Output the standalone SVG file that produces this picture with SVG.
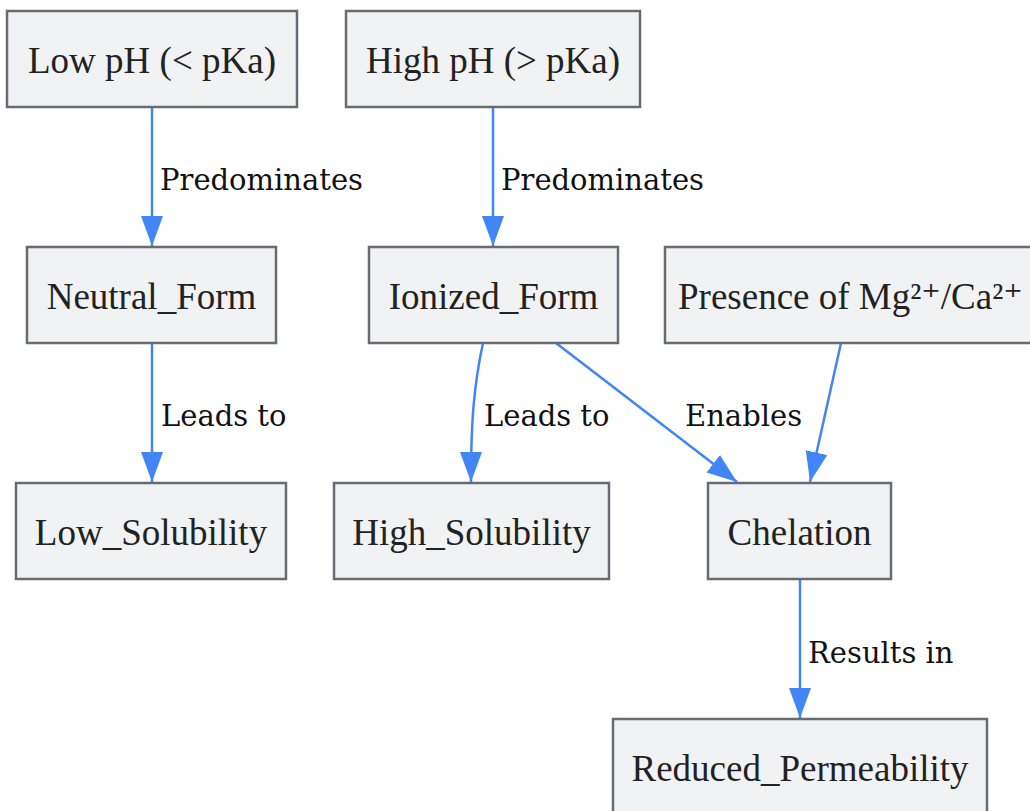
<svg xmlns="http://www.w3.org/2000/svg" width="1030" height="811" viewBox="0 0 1030 811">
<style>
.node rect{fill:#f1f2f4;stroke:#686b70;stroke-width:2.5}
.node text{font-family:"Liberation Serif","DejaVu Serif",serif;font-size:37px;fill:#222;text-anchor:middle}
.edges path{fill:none;stroke:#4285f4;stroke-width:2.5}
.lbl{font-family:"DejaVu Serif",serif;font-size:29px;fill:#111}
</style>
<defs>
<marker id="ah" markerUnits="userSpaceOnUse" markerWidth="32" markerHeight="24" refX="30" refY="11" orient="auto">
<path d="M0,0 L30,11 L0,22 Z" fill="#4285f4"/>
</marker>
</defs>
<rect width="1030" height="811" fill="#fff"/>
<g class="edges">
<path d="M152,107 L152,246" marker-end="url(#ah)"/>
<path d="M493,107 L493,246" marker-end="url(#ah)"/>
<path d="M152,343 L152,482" marker-end="url(#ah)"/>
<path d="M483,343 C474,385 471,420 471,482" marker-end="url(#ah)"/>
<path d="M556,343 L737,482" marker-end="url(#ah)"/>
<path d="M841,343 L810,482" marker-end="url(#ah)"/>
<path d="M800,579 L800,718" marker-end="url(#ah)"/>
<text class="lbl" x="160" y="190">Predominates</text>
<text class="lbl" x="501" y="190">Predominates</text>
<text class="lbl" x="161" y="426">Leads to</text>
<text class="lbl" x="484" y="426">Leads to</text>
<text class="lbl" x="685" y="426">Enables</text>
<text class="lbl" x="808" y="663">Results in</text>
</g>
<g id="lowph" class="node"><rect x="7" y="11" width="290" height="96"/><text x="152" y="73">Low pH (&lt; pKa)</text></g>
<g id="highph" class="node"><rect x="346" y="11" width="294" height="96"/><text x="493" y="73">High pH (&gt; pKa)</text></g>
<g id="neutral" class="node"><rect x="27" y="247" width="249" height="96"/><text x="151.5" y="309">Neutral_Form</text></g>
<g id="ionized" class="node"><rect x="369" y="247" width="249" height="96"/><text x="493.5" y="309">Ionized_Form</text></g>
<g id="presence" class="node"><rect x="665" y="247" width="380" height="96"/><text x="678" y="309" style="text-anchor:start">Presence of Mg²⁺/Ca²⁺</text></g>
<g id="lowsol" class="node"><rect x="16" y="483" width="270" height="96"/><text x="151" y="545">Low_Solubility</text></g>
<g id="highsol" class="node"><rect x="334" y="483" width="275" height="96"/><text x="471.5" y="545">High_Solubility</text></g>
<g id="chelation" class="node"><rect x="708" y="483" width="183" height="96"/><text x="799.5" y="545">Chelation</text></g>
<g id="reduced" class="node"><rect x="613" y="719" width="374" height="110"/><text x="800" y="781">Reduced_Permeability</text></g>
</svg>
